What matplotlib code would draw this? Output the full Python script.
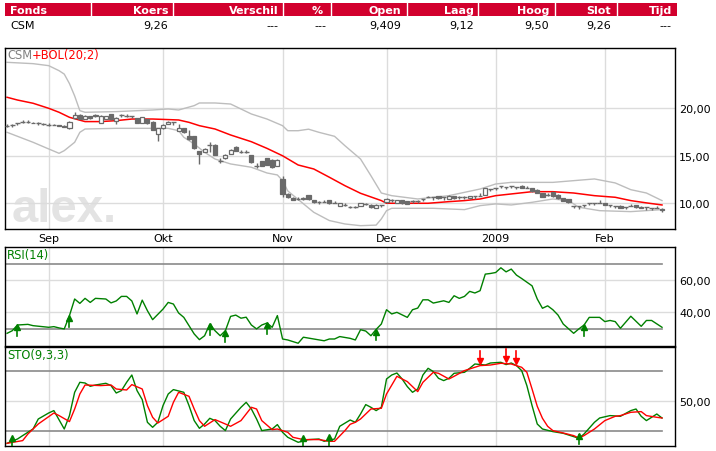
import numpy as np
import pandas as pd
import matplotlib
matplotlib.use("Agg")
import matplotlib.pyplot as plt
from matplotlib.patches import Rectangle

# ---------------- data ----------------
header_cols = ["Fonds", "Koers", "Verschil", "%", "Open", "Laag", "Hoog", "Slot", "Tijd"]
row_values = ["CSM", "9,26", "---", "---", "9,409", "9,12", "9,50", "9,26", "---"]

month_labels = ["Sep", "Okt", "Nov", "Dec", "2009", "Feb"]
month_keys = [(2008, 9), (2008, 10), (2008, 11), (2008, 12), (2009, 1), (2009, 2)]

opens = [
    18.17, 18.2, 18.45, 18.6, 18.6, 18.5, 18.4, 18.35, 18.25, 18.25,
    18.2, 18.15, 17.9, 18.95, 19.3, 18.9, 19.15, 19.15, 18.5, 18.9,
    19.35, 18.7, 19.25, 19.2, 19.2, 18.95, 18.45, 18.85, 18.6, 17.3,
    17.9, 18.35, 18.52, 17.63, 17.89, 17.05, 17.05, 15.54, 15.43, 16.1,
    16.14, 14.5, 14.73, 15.19, 15.9, 15.45, 15.45, 15.08, 13.96, 14.48,
    14.73, 14.59, 13.96, 12.6, 11.0, 10.6, 10.5, 10.4, 10.85, 10.3,
    10.1, 10.1, 10.3, 10.0, 9.75, 9.85, 9.6, 9.6, 9.75, 9.93,
    9.85, 9.5, 9.85, 10.1, 10.3, 10.05, 10.3, 10.2, 10.2, 10.2,
    10.5, 10.7, 10.63, 10.77, 10.63, 10.45, 10.77, 10.63, 10.63, 10.52,
    10.74, 10.81, 10.9, 11.5, 11.61, 11.82, 11.75, 11.82, 11.75, 11.85,
    11.58, 11.61, 11.4, 11.08, 10.88, 11.15, 10.91, 10.52, 10.45, 9.75,
    9.68, 9.82, 10.07, 10.07, 10.07, 10.0, 9.86, 9.75, 9.75, 9.64,
    9.68, 9.82, 9.64, 9.57, 9.5, 9.47, 9.41]
closes = [
    18.17, 18.2, 18.45, 18.6, 18.6, 18.42, 18.4, 18.35, 18.25, 18.25,
    18.12, 18.08, 18.6, 19.3, 18.9, 19.2, 18.95, 19.3, 19.2, 19.15,
    18.85, 19.0, 19.25, 19.2, 19.2, 18.45, 19.05, 18.42, 17.75, 17.9,
    18.2, 18.6, 18.52, 17.89, 17.47, 16.77, 15.8, 15.19, 15.72, 16.1,
    15.08, 14.5, 15.08, 15.64, 15.54, 15.45, 15.45, 14.31, 13.96, 13.96,
    14.03, 13.8, 14.59, 11.0, 10.65, 10.35, 10.5, 10.6, 10.4, 10.1,
    10.1, 10.1, 10.0, 10.0, 10.0, 9.85, 9.6, 9.6, 10.0, 9.93,
    9.57, 9.85, 9.85, 10.5, 10.3, 10.3, 10.0, 9.93, 10.2, 10.2,
    10.5, 10.7, 10.63, 10.56, 10.63, 10.8, 10.52, 10.63, 10.63, 10.74,
    10.74, 10.81, 11.6, 11.5, 11.61, 11.82, 11.75, 11.82, 11.75, 11.61,
    11.58, 11.26, 11.08, 10.7, 10.88, 10.74, 10.56, 10.28, 10.1, 9.75,
    9.68, 9.82, 10.07, 10.07, 10.07, 9.82, 9.86, 9.75, 9.5, 9.64,
    9.68, 9.57, 9.47, 9.57, 9.5, 9.47, 9.26]
highs = [
    18.32, 18.35, 18.45, 18.75, 18.75, 18.55, 18.55, 18.5, 18.4, 18.3,
    18.25, 18.2, 18.65, 19.6, 19.35, 19.25, 19.2, 19.35, 19.25, 19.2,
    19.4, 19.05, 19.4, 19.35, 19.2, 19.0, 19.1, 18.9, 18.65, 17.95,
    18.3, 18.65, 18.52, 18.3, 17.95, 17.7, 17.1, 15.54, 15.8, 16.45,
    16.2, 14.8, 15.15, 15.7, 16.0, 15.6, 15.6, 15.1, 14.2, 14.5,
    14.8, 14.65, 14.65, 12.9, 11.1, 10.65, 10.65, 10.65, 10.9, 10.35,
    10.25, 10.35, 10.35, 10.25, 10.05, 10.0, 9.75, 9.75, 10.05, 10.08,
    9.9, 9.9, 9.85, 10.55, 10.45, 10.35, 10.35, 10.25, 10.35, 10.35,
    10.5, 10.8, 10.63, 10.8, 10.63, 10.85, 10.8, 10.78, 10.78, 10.78,
    10.74, 11.06, 11.65, 11.5, 11.61, 11.82, 11.75, 11.82, 11.75, 11.9,
    11.83, 11.65, 11.45, 11.1, 11.03, 11.2, 10.95, 10.55, 10.5, 9.75,
    9.68, 9.82, 10.07, 10.07, 10.32, 10.05, 9.86, 9.75, 9.8, 9.64,
    9.93, 9.85, 9.7, 9.57, 9.5, 9.72, 9.50]
lows = [
    18.02, 18.05, 18.2, 18.45, 18.45, 18.4, 18.25, 18.2, 18.1, 18.2,
    18.1, 18.05, 17.85, 18.9, 18.85, 18.85, 18.9, 19.1, 18.45, 18.85,
    18.8, 18.35, 19.1, 19.05, 18.95, 18.4, 18.4, 18.35, 17.7, 16.6,
    17.85, 18.3, 18.27, 17.6, 17.4, 16.7, 15.75, 14.14, 15.4, 15.4,
    15.05, 14.2, 14.7, 15.15, 15.5, 15.3, 15.3, 14.25, 13.72, 13.9,
    14.0, 13.75, 13.9, 10.7, 10.6, 10.3, 10.35, 10.35, 10.35, 10.05,
    9.95, 10.1, 9.95, 10.0, 9.7, 9.7, 9.45, 9.45, 9.7, 9.78,
    9.55, 9.45, 9.6, 10.05, 10.15, 10.0, 9.95, 9.9, 10.05, 10.05,
    10.25, 10.65, 10.38, 10.5, 10.38, 10.4, 10.5, 10.48, 10.48, 10.5,
    10.49, 10.81, 10.85, 11.25, 11.36, 11.57, 11.5, 11.57, 11.5, 11.58,
    11.58, 11.2, 11.05, 10.65, 10.73, 10.7, 10.5, 10.25, 10.05, 9.5,
    9.43, 9.57, 9.82, 9.82, 10.07, 9.8, 9.61, 9.5, 9.45, 9.39,
    9.68, 9.55, 9.45, 9.32, 9.25, 9.47, 9.12]

# Bollinger (20;2) at the listed trading-day numbers
mid_day = [0, 2, 5, 8, 10, 12, 15, 18, 21, 24, 28, 33, 35, 37, 40, 43, 47, 50, 53, 56,
           59, 62, 65, 68, 72, 73, 81, 85, 88, 91, 94, 97, 101, 105, 109, 113, 117, 120, 123, 126]
mid_val = [21.16, 20.87, 20.53, 20.0, 19.58, 19.05, 18.6, 18.6, 18.7, 18.87, 18.87, 18.77, 18.52,
           18.17, 17.82, 17.19, 16.48, 15.78, 15.0, 14.03, 13.61, 12.74, 11.85, 11.05, 10.28, 10.0,
           10.0, 10.17, 10.28, 10.45, 10.8, 10.98, 11.22, 11.22, 11.08, 10.8, 10.63, 10.28, 10.04, 9.82]
upper_day = [0, 5, 8, 10, 11, 12, 13, 14, 15, 21, 28, 31, 33, 36, 37, 40, 43, 47, 50, 53, 54,
             56, 58, 60, 63, 65, 68, 70, 72, 74, 79, 85, 91, 94, 97, 105, 109, 113, 117, 120, 123, 126]
upper_val = [24.84, 24.7, 24.49, 23.96, 23.6, 22.6, 21.3, 19.75, 19.58, 19.65, 19.82, 19.93, 19.82,
             20.28, 20.56, 20.56, 20.45, 19.4, 18.87, 18.17, 17.64, 17.64, 17.8, 17.47, 17.05, 16.06,
             14.66, 12.9, 11.08, 10.8, 10.45, 10.8, 11.5, 12.03, 12.2, 12.2, 12.38, 12.56, 12.14,
             11.43, 11.08, 10.28]
lower_day = [0, 2, 5, 8, 10, 11, 13, 14, 15, 21, 31, 33, 34, 36, 38, 40, 43, 47, 50, 52, 53, 54,
             56, 59, 62, 65, 68, 71, 72, 73, 74, 82, 88, 91, 94, 97, 101, 105, 108, 110, 114, 120, 126]
lower_val = [17.47, 17.05, 16.42, 15.72, 15.26, 15.54, 16.42, 17.47, 17.82, 17.89, 17.89, 17.64,
             16.95, 16.24, 15.37, 14.66, 14.14, 13.79, 13.19, 12.98, 12.38, 11.3, 10.4, 9.05, 8.18,
             7.82, 7.64, 7.7, 8.35, 9.22, 9.47, 9.47, 9.33, 9.75, 9.93, 9.82, 10.1, 10.45, 10.28,
             9.58, 9.22, 9.12, 9.33]

# RSI(14)
rsi_day = [0, 1, 2, 4, 5, 8, 9, 10, 11, 12, 13, 14, 15, 16, 17, 19, 20, 21, 22, 23, 24, 25, 26, 27,
           28, 30, 31, 32, 33, 34, 36, 37, 38, 39, 40, 41, 42, 43, 44, 45, 46, 47, 48, 49, 50, 51,
           52, 53, 54, 56, 57, 59, 61, 62, 63, 64, 66, 67, 68, 69, 70, 71, 72, 73, 74, 75, 77, 78,
           79, 80, 81, 82, 84, 85, 86, 87, 88, 89, 90, 91, 92, 93, 94, 95, 96, 97, 98, 99, 101,
           102, 103, 104, 105, 106, 107, 109, 110, 111, 112, 114, 115, 116, 117, 118, 120, 122,
           123, 124, 126]
rsi_val = [27.1, 28.7, 32.2, 32.6, 31.8, 30.8, 31.2, 30.4, 29.8, 38.0, 48.2, 45.5, 48.6, 46.1, 48.6,
           48.2, 45.8, 47.0, 49.8, 49.8, 47.0, 39.0, 47.5, 41.0, 35.5, 42.0, 46.1, 45.1, 39.6, 36.9,
           26.7, 23.2, 25.6, 32.8, 28.7, 25.6, 28.7, 37.5, 38.3, 36.4, 37.0, 32.2, 29.8, 32.2, 33.4,
           30.8, 38.0, 23.6, 23.0, 21.0, 24.7, 23.6, 22.5, 23.6, 23.6, 25.1, 24.0, 23.0, 29.3, 28.5,
           25.6, 29.5, 32.8, 41.6, 39.0, 40.0, 36.9, 41.6, 42.6, 47.7, 47.7, 45.7, 47.1, 46.1, 50.2,
           48.6, 49.8, 52.9, 51.9, 53.3, 63.5, 63.9, 64.5, 67.4, 64.9, 66.6, 62.9, 60.8, 56.3, 48.2,
           42.5, 44.0, 41.6, 38.3, 32.8, 27.1, 29.8, 32.2, 36.9, 36.9, 34.3, 35.0, 34.3, 30.2, 37.6,
           31.4, 35.0, 35.0, 30.8]
rsi_buy_days = [2, 12, 39, 42, 50, 71, 111]

# STO(9,3,3): %K (green) and %D (red)
k_day = [0, 2, 3, 5, 6, 8, 9, 11, 12, 13, 14, 15, 16, 17, 19, 20, 21, 22, 23, 24, 25, 26, 27, 28,
         29, 30, 31, 32, 34, 35, 36, 37, 38, 39, 40, 41, 42, 43, 45, 46, 47, 48, 49, 51, 52, 53,
         54, 56, 58, 60, 61, 63, 64, 66, 67, 68, 69, 70, 71, 72, 73, 74, 75, 76, 77, 78, 79, 80,
         81, 82, 83, 84, 85, 86, 88, 89, 90, 92, 93, 95, 96, 97, 98, 99, 100, 101, 102, 103, 105,
         107, 109, 110, 111, 113, 114, 116, 118, 120, 121, 122, 123, 125, 126]
k_val = [8, 12.3, 15.7, 22.3, 32.3, 38.3, 40.7, 22.3, 35.7, 59, 69, 68.3, 65, 66.3, 68, 65.7, 58.3,
         60.7, 69, 76.3, 60.7, 51.7, 29, 24, 29, 45.7, 57.3, 61.7, 59, 45.7, 30.7, 23, 27.3, 33,
         30.7, 25, 20.7, 32.3, 44, 49, 42.3, 32.3, 20.7, 22.3, 26.7, 19, 14, 9, 11.7, 12.3, 10,
         12.3, 25, 31.3, 29, 37.3, 46.7, 44, 40.7, 44, 72.3, 76.3, 78.3, 72.3, 64.7, 59, 62.3,
         76.3, 83, 79.7, 73, 70.7, 73, 78, 79, 83, 87.3, 86.3, 88.3, 89, 86.7, 88.3, 85.7, 80.7,
         65.7, 45.7, 27.3, 22.3, 19.7, 18, 14.7, 13, 17.3, 29, 33.3, 35.7, 35, 40.7, 42.3, 35,
         30.7, 37.3, 33.3]
d_day = [0, 3, 4, 6, 9, 10, 12, 13, 14, 15, 18, 20, 21, 23, 24, 26, 27, 28, 29, 31, 32, 33, 35,
         36, 37, 38, 40, 42, 43, 45, 47, 48, 49, 51, 52, 54, 55, 57, 60, 62, 63, 65, 66, 67, 68,
         69, 70, 72, 73, 75, 77, 79, 80, 82, 83, 85, 86, 88, 91, 93, 95, 97, 99, 100, 101, 102,
         103, 104, 105, 107, 109, 110, 111, 113, 115, 117, 118, 120, 122, 123, 125, 126]
d_val = [8, 10.7, 17.3, 27.3, 38.3, 35.7, 29.7, 42.3, 57.3, 66.3, 65.7, 66.3, 62.3, 61.3, 66.7,
         62.3, 45.7, 34, 28.3, 35, 49, 59, 55, 42.3, 30.7, 25, 31.7, 27.3, 25, 30.7, 44, 42.3,
         30.7, 21.7, 22.3, 19, 14, 11.7, 11.7, 10, 10, 20.7, 27, 29, 32.3, 37.3, 42.3, 43, 57.3,
         75, 69.7, 59.7, 69, 79, 78, 72.3, 75, 80.7, 85.7, 86.3, 88, 87.3, 84, 79, 62.3, 45, 33,
         25, 20.7, 18.3, 15.7, 13.3, 15.7, 22.3, 30.7, 35, 35.7, 39, 39.7, 35.7, 34, 33.3]
sto_buy_days = [1, 57, 62, 110]
sto_sell_days = [91, 96, 98]

price_ticks = [10, 15, 20]
price_labels = ["10,00", "15,00", "20,00"]
rsi_ticks = [40, 60]
rsi_labels = ["40,00", "60,00"]
rsi_levels = [30, 70]
sto_ticks = [50]
sto_labels = ["50,00"]
sto_levels = [20, 80]

# ---------------- figure ----------------
W, H = 716, 452
fig = plt.figure(figsize=(W / 100, H / 100), dpi=100)
fig.patch.set_facecolor("white")
plt.rcParams["font.family"] = ["DejaVu Sans"]

RED = "#d2002d"
GRID = "#dcdcdc"
LEVEL = "#8a8a8a"
CANDLE = "#6a6a6a"
BAND = "#bdbdbd"
GREEN = "#008000"
LINE_RED = "#ff0000"

# trading calendar (Euronext: closed 25/26 Dec and 1 Jan)
days = pd.bdate_range("2008-08-20", "2009-02-17")
days = days[~days.isin(pd.to_datetime(["2008-12-25", "2008-12-26", "2009-01-01"]))]
n = len(days)
idx = np.arange(n)
month_first = [int(np.where((days.year == y) & (days.month == m))[0][0]) for y, m in month_keys]

# header table overlay in pixel coordinates
hdr = fig.add_axes([0, 0, 1, 1])
hdr.set_xlim(0, W)
hdr.set_ylim(H, 0)
hdr.axis("off")
hdr.add_patch(Rectangle((5, 4), 672, 13, color=RED, lw=0))
for xs in [90.7, 173, 283, 331, 407, 478, 555, 617]:
    hdr.plot([xs, xs], [4, 17], color="white", lw=1)
col_right = [None, 168, 278.6, 323, 401.5, 473.5, 549, 611, 671.7]
for j, (h, v) in enumerate(zip(header_cols, row_values)):
    if j == 0:
        hdr.text(10, 10.7, h, color="white", fontsize=8, fontweight="bold", ha="left", va="center")
        hdr.text(10, 25.8, v, color="black", fontsize=8, ha="left", va="center")
    else:
        hdr.text(col_right[j], 10.7, h, color="white", fontsize=8, fontweight="bold", ha="right", va="center")
        hdr.text(col_right[j] + (3 if v == "---" and j == 3 else 0), 25.8, v, color="black",
                 fontsize=8, ha="right", va="center")


def px_axes(x0, y0, x1, y1):
    return fig.add_axes([x0 / W, 1 - y1 / H, (x1 - x0) / W, (y1 - y0) / H])


XLIM = (-0.4, 128.5)


def style(ax, yticks, ylabels, ylim, show_x):
    ax.set_xlim(*XLIM)
    ax.set_ylim(*ylim)
    ax.set_xticks(month_first)
    if show_x:
        ax.set_xticklabels(month_labels)
    else:
        ax.set_xticklabels([])
    ax.set_yticks(yticks)
    ax.set_yticklabels(ylabels)
    ax.yaxis.tick_right()
    ax.tick_params(axis="both", length=0, labelsize=8, colors="black")
    ax.tick_params(axis="x", pad=3)
    ax.tick_params(axis="y", pad=3)
    ax.grid(True, color=GRID, lw=1)
    ax.set_axisbelow(True)
    for s in ax.spines.values():
        s.set_color("black")
        s.set_linewidth(1.0)


# ---------- main price panel ----------
ax = px_axes(5, 48.7, 675, 230)
style(ax, price_ticks, price_labels, (7.29, 26.38), True)
ax.text(7 / 670, 8 / 181.3, "alex.", transform=ax.transAxes, fontsize=34, fontweight="bold",
        family="Liberation Sans", color="#e3e3e3", ha="left", va="baseline", zorder=0.5)

ax.plot(upper_day, upper_val, color=BAND, lw=1, zorder=2)
ax.plot(lower_day, lower_val, color=BAND, lw=1, zorder=2)
ax.plot(mid_day, mid_val, color=LINE_RED, lw=1.1, zorder=2.5)

o = np.array(opens); c = np.array(closes); hi = np.array(highs); lo = np.array(lows)
ax.vlines(idx, lo, hi, color=CANDLE, lw=1, zorder=3)
body = np.abs(c - o)
doji = body < 0.04
up = (c > o) & ~doji
dn = (c < o) & ~doji
ax.bar(idx[up], body[up], bottom=o[up], width=0.8, color="white", edgecolor=CANDLE, lw=0.9, zorder=4)
ax.bar(idx[dn], body[dn], bottom=c[dn], width=0.8, color=CANDLE, edgecolor=CANDLE, lw=0.9, zorder=4)
ax.hlines(c[doji], idx[doji] - 0.45, idx[doji] + 0.45, color=CANDLE, lw=1, zorder=4)

t1 = fig.text(7 / W, 1 - 55.5 / H, "CSM", color="#808080", fontsize=8.3, va="center", ha="left")
ax.annotate("+BOL(20;2)", xy=(1, 0.5), xycoords=t1, color=LINE_RED, fontsize=8.3,
            va="center", ha="left")


def arrow(a, d, tip, length_px, direction, color):
    y0, y1 = a.get_ylim()
    hpx = a.get_position().height * H
    u = (y1 - y0) / hpx
    tail = tip - direction * length_px * u
    a.plot([d, d], [tail, tip - direction * 2 * u], color=color, lw=1.2, zorder=6, clip_on=True)
    a.plot([d], [tip - direction * 2.2 * u], marker="^" if direction > 0 else "v", ms=5,
           color=color, mec=color, zorder=6, clip_on=True)


# ---------- RSI panel ----------
ar = px_axes(5, 248.3, 675, 346.5)
style(ar, rsi_ticks, rsi_labels, (19.6, 80.0), False)
for lv in rsi_levels:
    ar.plot([XLIM[0], n - 1], [lv, lv], color=LEVEL, lw=1.2, zorder=1.5)
ar.plot(rsi_day, rsi_val, color=GREEN, lw=1, zorder=3)
for d in rsi_buy_days:
    arrow(ar, d, np.interp(d, rsi_day, rsi_val), 11, +1, GREEN)
fig.text(7 / W, 1 - 256 / H, "RSI(14)", color=GREEN, fontsize=8.3, va="center", ha="left")

# ---------- STO panel ----------
ast = px_axes(5, 348.3, 675, 446.7)
style(ast, sto_ticks, sto_labels, (5.6, 104.0), False)
for lv in sto_levels:
    ast.plot([XLIM[0], n - 1], [lv, lv], color=LEVEL, lw=1.2, zorder=1.5)
ast.plot(k_day, k_val, color=GREEN, lw=1, zorder=3)
ast.plot(d_day, d_val, color=LINE_RED, lw=1, zorder=3.2)
for d in sto_buy_days:
    arrow(ast, d, np.interp(d, k_day, k_val) + 5, 11, +1, GREEN)
for d in sto_sell_days:
    arrow(ast, d, np.interp(d, d_day, d_val) + 2.5, 12, -1, LINE_RED)
fig.text(7 / W, 1 - 356 / H, "STO(9,3,3)", color=GREEN, fontsize=8.3, va="center", ha="left")

fig.savefig("out.png", dpi=100, facecolor="white")
